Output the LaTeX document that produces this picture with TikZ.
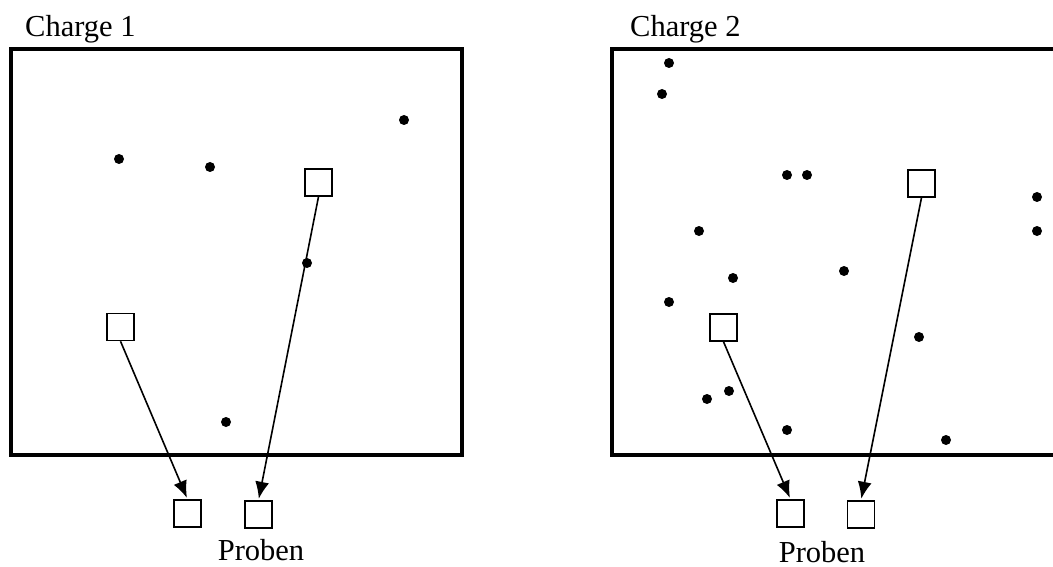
\documentclass[tikz,border=0pt]{standalone}
\usepackage{fontspec}
\setmainfont{Liberation Serif}
\usetikzlibrary{arrows.meta}

\begin{document}
\begin{tikzpicture}[x=1pt, y=-1pt,
    probe/.style={draw, line width=1.5pt, minimum size=27pt, inner sep=0pt},
    take/.style={line width=1.6pt, -{Latex[length=17pt, width=14pt]}, shorten >=1.5pt},
    label/.style={font=\fontsize{30.5}{36}\selectfont, inner sep=0pt}]
    \useasboundingbox (0,0) rectangle (1053,567);
    \draw[line width=4pt] (11,49) rectangle (462,455);
    \node[label, anchor=base west] (c1) at (25,37) {Charge 1};
    \foreach \x/\y in {119/159, 210/167, 404/120, 307/263, 226/422}
        \fill (\x,\y) circle (5pt);
    \node[probe] (a1) at (120.5,327) {};
    \node[probe] (b1) at (318.5,182.5) {};
    \node[probe] (p1) at (187.5,513.5) {};
    \node[probe] (q1) at (258.5,514.5) {};
    \draw[take] (a1.south) -- (p1.north);
    \draw[take] (b1.south) -- (q1.north);
    \node[label, anchor=base] (s1) at (261,560) {Proben};
    \draw[line width=4pt] (612,49) rectangle (1075,455);
    \node[label, anchor=base west] (c2) at (630,37) {Charge 2};
    \foreach \x/\y in {669/63, 662/94, 787/175, 807/175, 1037/197, 1037/231, 699/231, 733/278,
        844/271, 669/302, 919/337, 707/399, 729/391, 787/430, 946/440}
        \fill (\x,\y) circle (5pt);
    \node[probe] (a2) at (723.5,327.5) {};
    \node[probe] (b2) at (921.5,183.5) {};
    \node[probe] (p2) at (790.5,513.5) {};
    \node[probe] (q2) at (861,514.5) {};
    \draw[take] (a2.south) -- (p2.north);
    \draw[take] (b2.south) -- (q2.north);
    \node[label, anchor=base] (s2) at (822,562) {Proben};
\end{tikzpicture}
\end{document}
